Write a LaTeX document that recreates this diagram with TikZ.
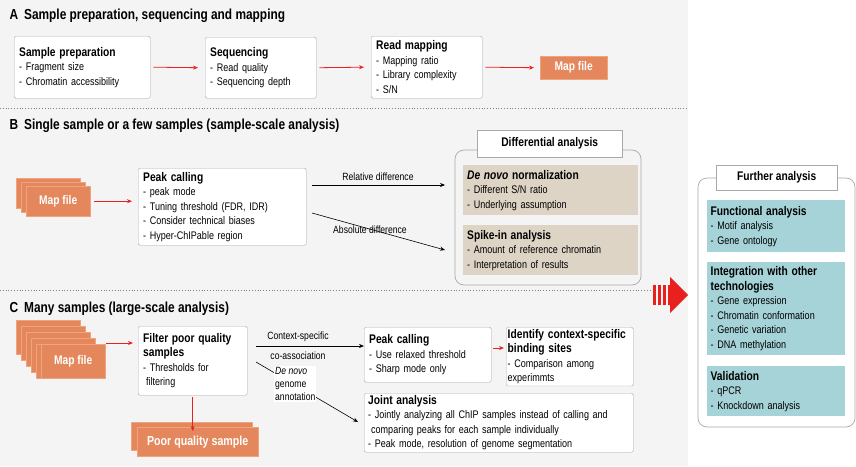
\documentclass[tikz,border=0pt]{standalone}
\usepackage{fontspec}
\setmainfont{Liberation Sans}[FakeStretch=0.82]
\usetikzlibrary{arrows.meta}
\definecolor{bg}{HTML}{F4F4F4}
\definecolor{orng}{HTML}{E4875C}
\definecolor{orngb}{HTML}{F0A47E}
\definecolor{tan}{HTML}{DDD4C5}
\definecolor{teal}{HTML}{A6D3D8}
\definecolor{bord}{HTML}{A8A8A8}
\definecolor{redar}{HTML}{E8211F}
\hyphenpenalty=10000 \exhyphenpenalty=10000
\tikzset{
  wbox/.style={draw=bord, fill=white, rounded corners=1.5pt, anchor=north west, align=left, inner xsep=5pt, inner ysep=3pt, font=\fontsize{11}{14.5}\selectfont},
  fbox/.style={fill=#1, draw=none, anchor=north west, align=left, inner xsep=4pt, inner ysep=3pt, font=\fontsize{11}{14.5}\selectfont},
  orbox/.style={fill=orng, draw=orngb, anchor=north west, font=\bfseries\fontsize{12.5}{14}\selectfont, text=white, align=center, inner sep=0pt},
  rarr/.style={draw=redar, -{Stealth[length=5pt,width=4pt]}, line width=0.8pt},
  karr/.style={draw=black, -{Stealth[length=5pt,width=4pt]}, line width=0.6pt},
  ttl/.style={anchor=west, font=\bfseries\fontsize{14.5}{16}\selectfont},
  lbl/.style={font=\fontsize{10.5}{13}\selectfont},
  tab/.style={draw=bord, fill=white, anchor=north west, font=\bfseries\fontsize{12.5}{14}\selectfont, inner sep=0pt},
  grp/.style={draw=bord, rounded corners=9pt, line width=0.7pt},
  dots/.style={draw=gray, dotted, line width=0.8pt}
}
\newcommand{\hdtxt}[1]{{\bfseries\fontsize{12.5}{15}\selectfont #1}}
\begin{document}
\begin{tikzpicture}[x=1pt,y=-1pt]
\useasboundingbox (0,0) rectangle (856,466);
\fill[bg] (0,0) rectangle (688,466);
% ---- A
\node[ttl] (ta) at (6,16) {A\hspace{6pt}Sample preparation, sequencing and mapping};
\node[wbox, minimum width=136pt, minimum height=62pt, text width=126pt] (a1) at (14,36) {\hdtxt{Sample preparation}\\- Fragment size\\- Chromatin accessibility};
\node[wbox, minimum width=111pt, minimum height=61pt, text width=101pt] (a2) at (205,37) {\hdtxt{Sequencing}\\- Read quality\\- Sequencing depth};
\node[wbox, minimum width=111pt, minimum height=62pt, text width=101pt, inner ysep=1pt] (a3) at (371,36) {\hdtxt{Read mapping}\\- Mapping ratio\\- Library complexity\\- S/N};
\node[orbox, minimum width=67pt, minimum height=23pt] (a4) at (540,56) {Map file};
\draw[rarr] (a1.east) ++(3,0) -- ([xshift=-7pt]a2.west);
\draw[rarr] (a2.east) ++(3,0) -- ([xshift=-7pt]a3.west);
\draw[rarr] (a3.east) ++(3,0) -- ([xshift=-6pt]a4.west);
\draw[dots] (0,108) -- (688,108);
% ---- B
\node[ttl] (tb) at (6,126) {B\hspace{6pt}Single sample or a few samples (sample-scale analysis)};
\foreach \i in {0,1,2} \draw[fill=orng, draw=orngb] (16+5*\i,178+4*\i) rectangle (80+5*\i,208+4*\i);
\node[orbox, minimum width=64pt, minimum height=30pt] (bm) at (26,186) {Map file};
\node[wbox, minimum width=168pt, minimum height=77pt, text width=158pt, inner ysep=1pt] (bp) at (138,168) {\hdtxt{Peak calling}\\- peak mode\\- Tuning threshold (FDR, IDR)\\- Consider technical biases\\- Hyper-ChIPable region};
\draw[rarr] (bm.east) ++(4,0) -- ([xshift=-6pt]bp.west |- bm.east);
\draw[grp] (455,150) rectangle (641,285);
\node[tab, minimum width=145pt, minimum height=27pt] (bt) at (477,130) {Differential analysis};
\node[fbox=tan, minimum width=175pt, minimum height=50pt, text width=167pt] (bd) at (463,165) {{\bfseries\itshape\fontsize{12.5}{15}\selectfont De novo}\hdtxt{ normalization}\\- Different S/N ratio\\- Underlying assumption};
\node[fbox=tan, minimum width=175pt, minimum height=50pt, text width=167pt] (bs) at (463,225) {\hdtxt{Spike-in analysis}\\- Amount of reference chromatin\\- Interpretation of results};
\coordinate (r1) at (312,185);
\coordinate (r2) at (312,213);
\draw[karr] (r1) -- (445,185);
\draw[karr] (r2) -- (445,250);
\node[lbl] (lr) at (378,177) {Relative difference};
\node[lbl] (la) at (370,230) {Absolute difference};
\draw[dots] (0,290) -- (652,290);
% big arrow
\foreach \xx in {653,658,663} \fill[redar] (\xx,285) rectangle (\xx+3,305);
\fill[redar] (668,285) -- (670,285) -- (670,277) -- (688,295) -- (670,313) -- (670,305) -- (668,305) -- cycle;
% ---- C
\node[ttl] (tc) at (6,309) {C\hspace{6pt}Many samples (large-scale analysis)};
\foreach \i in {0,1,2,3,4} \draw[fill=orng, draw=orngb] (16+5*\i,320+6*\i) rectangle (80+5*\i,354+6*\i);
\node[orbox, minimum width=64pt, minimum height=34pt] (cm) at (41,344) {Map file};
\node[wbox, minimum width=109pt, minimum height=69pt, text width=99pt, inner ysep=2pt] (cf) at (138,326) {\hdtxt{Filter poor quality}\\\hdtxt{samples}\\- Thresholds for\\\hspace*{3pt}filtering};
\draw[rarr] (106,343) -- ([xshift=-5pt]cf.west |- 0,343);
\draw[fill=orng, draw=orngb] (131,422) rectangle (252,450);
\node[orbox, minimum width=121pt, minimum height=29pt, font=\bfseries\fontsize{13}{14}\selectfont] (cq) at (137,427) {Poor quality sample};
\draw[rarr] (cf.south) ++(0,2) -- ([yshift=-4pt]cf.south |- cq.north);
\node[wbox, minimum width=127pt, minimum height=55pt, text width=117pt, inner ysep=2pt] (cp) at (364,327) {\hdtxt{Peak calling}\\- Use relaxed threshold\\- Sharp mode only};
\node[wbox, minimum width=127pt, minimum height=55pt, text width=124pt, inner xsep=1.5pt, inner ysep=2pt] (ci) at (506,327) {\hdtxt{Identify context-specific}\\\hdtxt{binding sites}\\- Comparison among experimmts};
\node[wbox, minimum width=269pt, minimum height=59pt, text width=261pt, inner xsep=4pt, inner ysep=1pt] (cj) at (364,393) {\hdtxt{Joint analysis}\\- Jointly analyzing all ChIP samples instead of calling and\\\hspace*{3pt}comparing peaks for each sample individually\\- Peak mode, resolution of genome segmentation};
\draw[rarr] (cp.east |- 0,348) ++(2,0) -- ([xshift=-2pt]ci.west |- 0,348);
\coordinate (c1) at (256,346);
\coordinate (c2) at (256,362);
\draw[karr] (c1) -- (cp.west |- c1);
\node[lbl] (lc1) at (298,337) {Context-specific};
\node[lbl] (lc2) at (298,356) {co-association};
\draw[karr] (c2) -- (358,422);
\node[lbl, fill=white, align=left, inner sep=1pt, anchor=north west] (lc3) at (274,366) {\itshape De novo\\genome\\annotation};
% ---- Further analysis
\draw[grp] (698,178) rectangle (855,427);
\node[tab, minimum width=121pt, minimum height=25pt] (ft) at (716,165) {Further analysis};
\node[fbox=teal, minimum width=138pt, minimum height=52pt, text width=131pt, inner xsep=3.5pt, inner ysep=1pt] (f1) at (707,200) {\hdtxt{Functional analysis}\\- Motif analysis\\- Gene ontology};
\node[fbox=teal, minimum width=138pt, minimum height=93pt, text width=131pt, inner xsep=3.5pt, inner ysep=1pt] (f2) at (707,262) {\hdtxt{Integration with other}\\\hdtxt{technologies}\\- Gene expression\\- Chromatin conformation\\- Genetic variation\\- DNA methylation};
\node[fbox=teal, minimum width=138pt, minimum height=50pt, text width=131pt, inner xsep=3.5pt, inner ysep=1pt] (f3) at (707,366) {\hdtxt{Validation}\\- qPCR\\- Knockdown analysis};
\end{tikzpicture}
\end{document}
